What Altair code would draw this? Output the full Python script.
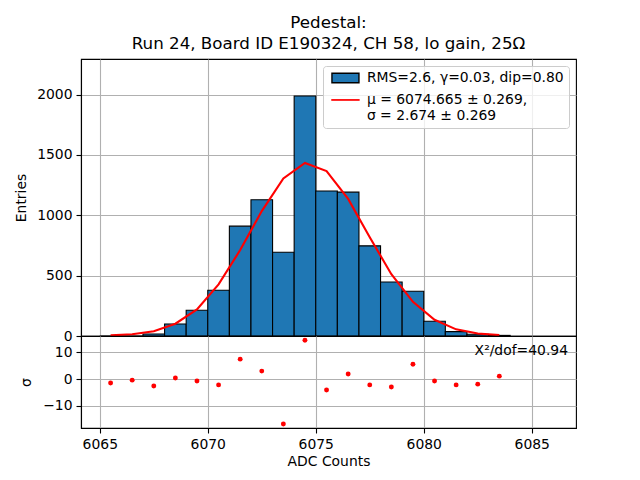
import altair as alt
import pandas as pd

# ---------------- data ----------------
bin_edges = [6065, 6066, 6067, 6068, 6069, 6070, 6071, 6072, 6073, 6074,
             6075, 6076, 6077, 6078, 6079, 6080, 6081, 6082, 6083, 6084]
counts = [0, 0, 17, 100, 213, 379, 910, 1129, 694, 1989,
          1201, 1192, 747, 448, 371, 122, 36, 14, 5]
bin_centers = [6065.5, 6066.5, 6067.5, 6068.5, 6069.5, 6070.5, 6071.5, 6072.5, 6073.5, 6074.5,
               6075.5, 6076.5, 6077.5, 6078.5, 6079.5, 6080.5, 6081.5, 6082.5, 6083.5]
fit_values = [5, 15, 40, 102, 220, 428, 712, 1035, 1305, 1434,
              1366, 1136, 818, 512, 283, 134, 55, 21, 7]
residuals = [-1.5, -0.4, -2.6, 0.4, -0.7, -2.2, 7.5, 3.0, -16.9, 14.6,
             -4.1, 1.9, -2.2, -3.0, 5.6, -0.7, -2.2, -1.9, 1.1]

legend_labels = ["RMS=2.6, γ=0.03, dip=0.80",
                 "μ = 6074.665 ± 0.269,\nσ = 2.674 ± 0.269"]
title_lines = ["Pedestal:", "Run 24, Board ID E190324, CH 58, lo gain, 25Ω"]
chi2_label = "X²/dof=40.94"
x_ticks = [6065, 6070, 6075, 6080, 6085]
y_ticks_top = [0, 500, 1000, 1500, 2000]
y_ticks_bottom = [-10, 0, 10]

# ---------------- tables ----------------
hist_df = pd.DataFrame({"left": bin_edges[:-1], "right": bin_edges[1:], "count": counts})
fit_df = pd.DataFrame({"x": bin_centers, "fit": fit_values, "lab": legend_labels[1]})
res_df = pd.DataFrame({"x": bin_centers, "res": residuals})
chi_df = pd.DataFrame({"t": [chi2_label]})

FONT = "DejaVu Sans"
W = 495
xdom = [6064.13, 6087.05]
xscale = alt.Scale(domain=xdom, nice=False, zero=False)

legend_kw = dict(title=None, orient="top-right", offset=7, padding=5,
                 labelFontSize=13.9, labelFont=FONT, labelColor="black",
                 labelLimit=400, labelOffset=14.5, rowPadding=6,
                 symbolSize=100, symbolOffset=10.5, symbolStrokeWidth=1.4, symbolOpacity=1,
                 strokeColor="#cccccc", fillColor="rgba(255,255,255,0.8)",
                 cornerRadius=3, labelExpr="split(datum.label, '\\n')")

shape_bar = "M-2.7,-0.95H2.7V0.95H-2.7Z"
shape_line = "M-2.7,-0.03H2.7V0.03H-2.7Z"

bars = alt.Chart(hist_df).mark_rect(fill="#1f77b4", stroke="black", strokeWidth=1.1).encode(
    x=alt.X("left:Q", scale=xscale,
            axis=alt.Axis(values=x_ticks, labels=False, ticks=False, title=None, domain=False,
                          minExtent=0, maxExtent=0, offset=0)),
    x2="right:Q",
    y=alt.Y("count:Q", scale=alt.Scale(domain=[0, 2295], nice=False),
            axis=alt.Axis(values=y_ticks_top, title="Entries", format="d",
                          minExtent=45, maxExtent=45, titlePadding=8)),
    y2=alt.datum(0),
)

fit_line = alt.Chart(fit_df).mark_line(color="red", strokeWidth=2.1).encode(
    x=alt.X("x:Q", scale=xscale),
    y=alt.Y("fit:Q"),
)

legend_pts = alt.Chart(fit_df).mark_point(filled=True, opacity=0).encode(
    x=alt.X("x:Q", scale=xscale),
    y=alt.Y("fit:Q"),
    fill=alt.Fill("lab:N", scale=alt.Scale(domain=legend_labels, range=["#1f77b4", "red"]),
                  legend=alt.Legend(**legend_kw)),
    stroke=alt.Stroke("lab:N", scale=alt.Scale(domain=legend_labels, range=["black", "red"]),
                      legend=alt.Legend(**legend_kw)),
    shape=alt.Shape("lab:N", scale=alt.Scale(domain=legend_labels, range=[shape_bar, shape_line]),
                    legend=alt.Legend(**legend_kw)),
)

top = alt.layer(bars, fit_line, legend_pts).properties(
    width=W, height=277,
    title=alt.TitleParams(text=title_lines, fontSize=16.7, fontWeight="normal", font=FONT,
                          anchor="middle", frame="group", offset=6, lineHeight=21, color="black"),
)

res_pts = alt.Chart(res_df).mark_circle(color="red", size=24, opacity=1).encode(
    x=alt.X("x:Q", scale=xscale, axis=alt.Axis(values=x_ticks, title="ADC Counts", format="d")),
    y=alt.Y("res:Q", scale=alt.Scale(domain=[-18.4, 16.2], nice=False),
            axis=alt.Axis(values=y_ticks_bottom, title="σ",
                          minExtent=40, maxExtent=40, titlePadding=8)),
)

chi_text = alt.Chart(chi_df).mark_text(align="right", baseline="middle", fontSize=13.9,
                                        font=FONT, color="black").encode(
    text="t:N", x=alt.value(487), y=alt.value(15))

bottom = alt.layer(res_pts, chi_text).properties(width=W, height=92)

chart = alt.vconcat(top, bottom, spacing=0, bounds="flush").configure(
    padding={"left": 5, "top": 6, "right": 5, "bottom": 5},
    font=FONT,
).configure_view(
    stroke="black", strokeWidth=1.1
).configure_axis(
    grid=True, gridColor="#b0b0b0", gridWidth=1.1,
    domainColor="black", domainWidth=1.1,
    tickColor="black", tickSize=5, tickWidth=1.1,
    labelPadding=4, labelFontSize=13.9, labelFont=FONT, labelColor="black",
    titleFontSize=13.9, titleFont=FONT, titleColor="black", titleFontWeight="normal",
    zindex=1,
).configure_axisX(
    titlePadding=4,
)

chart.save("out.html", embed_options={"renderer": "svg", "actions": False})
